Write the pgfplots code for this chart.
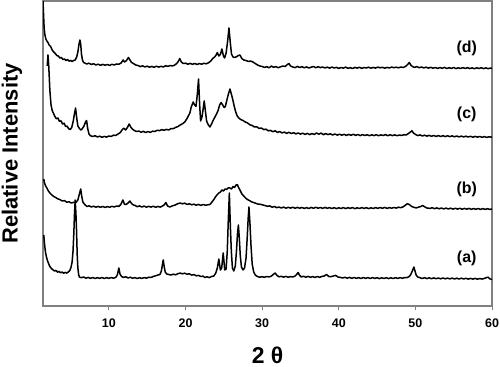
\documentclass[border=0pt]{standalone}
\usepackage{fontspec}
\setmainfont{Liberation Sans}
\usepackage{pgfplots}
\pgfplotsset{compat=1.18}
\usepackage{pgfplotstable}
\definecolor{axisgray}{RGB}{128,128,128}

\pgfplotstableread{
x y
1.40 305
1.48 290
1.55 278
1.65 271
1.78 267
1.90 265
2.05 263.5
2.20 261
2.40 259.5
2.60 256
2.80 254
3.00 252.5
3.20 250.5
3.40 250
3.60 248
3.80 248.5
4.00 246.5
4.20 247
4.40 245.5
4.60 246.5
4.80 244.8
5.00 245.6
5.20 244.5
5.40 245.5
5.60 246
5.80 249
5.95 254
6.10 262
6.22 266
6.32 262
6.42 252
6.55 246
6.70 243.5
6.90 242.8
7.10 242
7.40 242.8
7.70 241.5
8.00 242.3
8.30 241
8.60 241.8
8.90 240.7
9.20 241.6
9.50 240.8
9.80 241.5
10.10 240.6
10.40 241.7
10.70 241
11.00 242
11.30 241.8
11.60 243
11.85 246
12.05 244
12.30 245.5
12.55 248.5
12.75 246
12.95 243.5
13.20 242.5
13.50 241
13.80 240.5
14.10 239.4
14.40 240.2
14.70 239
15.00 239.8
15.30 238.8
15.60 239.6
15.90 238.7
16.20 239.8
16.50 238.9
16.80 239.7
17.10 239
17.40 240.3
17.70 239.6
18.00 240.5
18.30 240
18.60 241
18.85 242.5
19.05 244.5
19.25 247.5
19.45 244
19.70 242.5
20.00 242.8
20.30 241.8
20.60 242.6
20.90 241.7
21.20 242.5
21.50 241.6
21.80 242.4
22.10 241.8
22.40 242.7
22.70 242.2
23.00 243.2
23.30 245
23.55 247.5
23.80 249
24.00 251
24.15 253.5
24.35 250
24.55 251.5
24.75 257
24.95 250
25.10 248
25.30 253
25.50 265
25.67 278
25.85 263
26.00 252
26.20 249
26.45 248.5
26.70 249.5
26.90 250.5
27.10 251
27.35 247.5
27.60 246
27.90 245.5
28.20 244.5
28.50 245
28.80 244
29.10 242.5
29.40 241
29.70 240
30.0 239.5
30.3 238.6
30.6 239.3
30.9 238.2
31.2 239.9
31.5 238.7
31.8 239.4
32.1 238.3
32.4 239.2
32.7 240.0
33.0 239.5
33.3 241.5
33.5 242.5
33.7 240.0
34.0 239.0
34.3 238.4
34.6 239.6
34.9 238.5
35.2 239.3
35.5 238.2
35.8 239.1
36.1 238.0
36.4 238.8
36.7 239.5
37.0 238.3
37.3 239.2
37.6 238.4
37.9 239.0
38.2 238.1
38.5 238.8
38.8 237.9
39.1 238.9
39.4 238.0
39.7 238.6
40.0 237.6
40.3 238.5
40.6 237.8
40.9 238.9
41.2 237.7
41.5 238.3
41.8 237.5
42.1 238.6
42.4 237.9
42.7 238.7
43.0 237.6
43.3 238.5
43.6 238.0
43.9 238.8
44.2 237.8
44.5 238.6
44.8 237.9
45.1 238.9
45.4 238.2
45.7 238.7
46.0 237.8
46.3 238.6
46.6 238.0
46.9 238.9
47.2 238.3
47.5 238.8
47.8 238.2
48.1 239.0
48.4 238.5
48.7 239.5
49.0 241.5
49.2 243.5
49.4 241.0
49.6 239.5
49.9 238.6
50.2 239.4
50.5 238.3
50.8 239.0
51.1 238.1
51.4 238.8
51.7 237.9
52.0 238.7
52.3 237.8
52.6 238.5
52.9 237.6
53.2 238.4
53.5 237.7
53.8 238.6
54.1 237.5
54.4 238.3
54.7 237.6
55.0 238.5
55.3 237.4
55.6 238.2
55.9 237.5
56.2 238.4
56.5 237.6
56.8 238.3
57.1 237.4
57.4 238.1
57.7 237.3
58.0 238.2
58.3 237.5
58.6 238.3
58.9 237.4
59.2 238.1
59.5 237.3
59.8 238.0
60.0 237.6
}\traced

\pgfplotstableread{
x y
1.95 240
2.05 251
2.15 240
2.30 215
2.45 201
2.60 195.5
2.75 193
2.95 189.5
3.15 187.2
3.35 188
3.55 184.6
3.75 185.2
3.95 182
4.15 182.8
4.35 179.6
4.55 179.8
4.75 177.2
4.95 176.5
5.15 178.5
5.35 185
5.50 192
5.65 198
5.80 188
5.95 180
6.15 177.5
6.35 176
6.55 177.5
6.75 180
6.95 184
7.09 185.5
7.22 178
7.40 172
7.60 170.2
7.90 169.5
8.20 170.3
8.50 169
8.80 169.8
9.10 168.7
9.40 169.6
9.70 168.9
10.00 170
10.30 169.6
10.60 170.8
10.90 170.6
11.20 172
11.50 173.5
11.75 176.5
11.95 177.8
12.20 176
12.45 179
12.65 182
12.85 179
13.05 177
13.30 175.6
13.60 174.5
13.90 175
14.20 173.8
14.50 174.6
14.80 173.5
15.10 174.4
15.40 173.6
15.70 174.8
16.00 174.6
16.30 175.7
16.60 175.4
16.90 176.3
17.20 175.7
17.50 176.6
17.80 176
18.10 177.4
18.40 177.3
18.70 178.6
19.00 179.4
19.30 181
19.60 182.2
19.90 184
20.20 187.5
20.40 190.5
20.57 193
20.75 199
20.90 202
21.00 204
21.15 201.5
21.36 199.5
21.52 210
21.70 227
21.84 202
21.97 185
22.15 189
22.32 198
22.44 205
22.58 196
22.75 185
22.95 181.5
23.19 179
23.40 182
23.60 185.5
23.84 189
24.05 192
24.25 195.5
24.45 201
24.65 203.5
24.85 201
25.05 198.5
25.20 199.5
25.40 206
25.60 212
25.80 217
25.98 212
26.15 207
26.35 200
26.55 194
26.75 190
26.95 188
27.20 186.5
27.50 185.5
27.80 184
28.10 183
28.40 181.2
28.70 180.5
29.00 179
29.30 179.2
29.60 177.6
29.90 178
30.20 176.4
30.50 176.8
30.80 175.2
31.10 175.6
31.40 174.3
31.70 175.2
32.00 173.6
32.30 174.4
32.60 173.1
32.90 173.9
33.20 172.6
33.50 173.7
33.80 172.5
34.10 173.3
34.40 172.1
34.70 173
35.00 171.9
35.30 172.8
35.60 171.6
35.90 172.6
36.20 171.4
36.50 172.5
36.80 171.5
37.10 173
37.40 171.8
37.70 172.9
38.00 171.3
38.30 172.4
38.60 171.4
38.90 172.2
39.20 171
39.50 172
39.80 170.9
40.10 171.8
40.40 170.8
40.70 171.7
41.00 170.6
41.30 171.6
41.60 170.7
41.90 171.8
42.20 170.6
42.50 171.5
42.80 170.4
43.10 171.4
43.40 170.5
43.70 171.3
44.00 170.3
44.30 171.2
44.60 170.4
44.90 171.3
45.20 170.3
45.50 171.1
45.80 170.5
46.10 171.4
46.40 170.3
46.70 171.2
47.00 170.4
47.30 171.1
47.60 170.3
47.90 171
48.20 170.5
48.50 171.3
48.80 171
49.10 172.5
49.35 174
49.55 175.2
49.75 173
50.00 171.6
50.30 170.4
50.60 171.1
50.90 170
51.20 170.8
51.50 169.9
51.80 170.6
52.10 169.7
52.40 170.5
52.70 169.6
53.00 170.4
53.30 169.5
53.60 170.3
53.90 169.4
54.20 170.2
54.50 169.4
54.80 170.1
55.10 169.2
55.40 170
55.70 169.1
56.00 169.9
56.30 169.1
56.60 169.8
56.90 169
57.20 169.7
57.50 168.8
57.80 169.6
58.10 168.9
58.40 169.5
58.70 168.7
59.00 169.4
59.30 168.6
59.60 169.2
60.00 168.8
}\tracec

\pgfplotstableread{
x y
1.50 127
1.60 123
1.75 120
1.91 118
2.10 115
2.30 113
2.56 111
2.80 109.5
3.05 108.6
3.30 107.2
3.60 106.5
3.90 105
4.20 105.4
4.50 103.8
4.80 104.2
5.10 103
5.40 103.6
5.70 103.5
5.95 106
6.15 112
6.32 117
6.45 110
6.60 104
6.85 101.5
7.13 99.5
7.40 100.2
7.70 99
8.00 99.8
8.30 98.8
8.60 99.6
8.90 98.7
9.20 99.5
9.50 98.6
9.80 99.4
10.10 98.8
10.40 99.7
10.70 99
11.00 100
11.30 99.6
11.55 101.5
11.83 106
12.05 101.5
12.25 101.5
12.50 103
12.74 105
12.95 102.5
13.20 101
13.40 100.6
13.70 99.3
14.00 100.1
14.30 99
14.60 99.9
14.90 98.8
15.20 99.7
15.50 98.9
15.80 99.8
16.10 98.7
16.40 99.6
16.70 98.9
16.95 99.8
17.20 101
17.44 103.5
17.65 100
17.96 99
18.30 100.2
18.60 100.8
18.90 102
19.27 103
19.60 102.2
19.90 102.8
20.20 101.6
20.50 102.2
20.80 101.2
21.10 101.8
21.40 100.8
21.70 101.6
22.00 100.6
22.30 101.5
22.60 100.8
22.90 101.2
23.19 101.5
23.45 104
23.70 106.5
23.90 109
24.10 111
24.35 113
24.55 114
24.75 116
24.95 115
25.15 117
25.35 116.5
25.55 118
25.80 118
26.00 117
26.20 119.5
26.40 118.5
26.60 121
26.75 121.5
26.90 119
27.10 116
27.36 112
27.60 110
27.90 107.5
28.20 106
28.45 105
28.67 104
29.00 103.2
29.40 102
29.80 101.7
30.10 101
30.40 100.4
30.70 99.7
31.00 100.1
31.30 98.8
31.60 99.5
31.90 98.3
32.20 99
32.50 98
32.80 98.9
33.10 97.8
33.40 98.7
33.70 97.9
34.00 98.8
34.30 97.7
34.60 98.6
34.90 97.8
35.20 98.5
35.50 97.6
35.80 98.4
36.10 97.5
36.40 98.6
36.70 97.7
37.00 98.7
37.30 97.8
37.60 98.5
37.90 97.6
38.20 98.6
38.50 97.7
38.80 98.4
39.10 97.5
39.40 98.3
39.70 97.4
40.00 98.2
40.30 97.5
40.60 98.4
40.90 97.4
41.20 98.3
41.50 97.6
41.80 98.5
42.10 97.3
42.40 98.2
42.70 97.5
43.00 98.4
43.30 97.6
43.60 98.3
43.90 97.4
44.20 98.2
44.50 97.5
44.80 98.4
45.10 97.6
45.40 98.5
45.70 97.7
46.00 98.6
46.30 97.6
46.60 98.4
46.90 97.8
47.20 98.5
47.50 97.9
47.80 98.8
48.10 98.3
48.40 99.2
48.70 100.8
48.95 102.3
49.20 101.5
49.50 99.6
49.80 98.7
50.10 98.1
50.40 98.8
50.70 99.5
50.95 100.5
51.20 99.2
51.50 98
51.90 97.6
52.20 98.3
52.50 97.3
52.80 98.1
53.10 97.2
53.40 98
53.70 97.1
54.00 97.9
54.30 97
54.60 97.8
54.90 96.9
55.20 97.8
55.50 96.9
55.80 97.7
56.10 96.8
56.40 97.6
56.70 96.8
57.00 97.6
57.30 96.7
57.60 97.5
57.90 96.7
58.20 97.5
58.50 96.6
58.80 97.4
59.10 96.6
59.40 97.3
59.70 96.6
60.00 97
}\traceb

\pgfplotstableread{
x y
1.50 71
1.60 62
1.72 54
1.85 49
2.00 45
2.15 42
2.30 39.5
2.50 37.5
2.70 36.2
2.90 35
3.10 35.6
3.30 33.8
3.50 34.6
3.70 33.2
3.90 34
4.10 32.8
4.30 33.6
4.50 32.9
4.70 34
4.90 35.5
5.05 38.5
5.20 44
5.32 55
5.42 72
5.50 90
5.60 106
5.70 92
5.78 75
5.86 52
5.95 38
6.05 31.5
6.15 29
6.40 28.3
6.70 29
7.00 27.8
7.30 28.6
7.60 27.6
7.90 28.5
8.20 27.5
8.50 28.4
8.80 27.6
9.10 28.5
9.40 27.5
9.70 28.4
10.00 27.6
10.30 28.5
10.60 27.8
10.90 28.6
11.10 31
11.30 38
11.45 32
11.65 29.5
11.90 28.6
12.20 29.2
12.50 28
12.80 28.8
13.10 27.7
13.40 28.4
13.70 27.5
14.00 28.3
14.30 27.6
14.60 28.4
14.90 27.8
15.20 28.8
15.50 28.5
15.80 29.6
16.10 30.2
16.40 31
16.66 31.5
16.85 35
17.00 42
17.09 46
17.20 40
17.35 34
17.55 32
17.80 31.5
18.10 31
18.40 31.8
18.70 31.2
19.00 32.3
19.30 32.9
19.60 32.2
19.90 32.8
20.20 31.8
20.50 32.2
20.80 30.9
21.10 31.4
21.40 30.2
21.70 30.6
22.00 29.5
22.30 29.9
22.50 28.5
22.80 29.2
23.10 28.4
23.40 29.5
23.70 30
23.95 33
24.15 38
24.35 47
24.55 36
24.72 38
24.92 53
25.12 36
25.30 37
25.45 55
25.58 85
25.72 113
25.85 80
25.98 55
26.12 38
26.30 35
26.50 40
26.65 55
26.78 72
26.90 81
27.02 68
27.15 50
27.30 39
27.50 36
27.70 38
27.90 48
28.05 68
28.18 88
28.28 99
28.40 84
28.55 60
28.70 42
28.90 34
29.10 31
29.40 29.4
29.70 28.8
30.00 29.3
30.30 28.7
30.60 29.5
30.90 29.1
31.20 29.9
31.45 31.5
31.70 33
31.95 30.5
32.20 29.2
32.50 29.7
32.80 28.9
33.10 29.6
33.40 28.8
33.70 29.4
34.00 29
34.30 30
34.50 31.5
34.70 33.5
34.90 30.5
35.10 29.1
35.40 29.7
35.70 28.8
36.00 29.6
36.30 28.7
36.60 29.4
36.90 28.6
37.20 29.5
37.50 28.7
37.80 29.6
38.10 30
38.40 31.5
38.70 29.5
39.00 29.4
39.30 30
39.60 30.6
39.90 29
40.20 28.6
40.50 28
40.80 28.7
41.10 27.8
41.40 28.6
41.70 27.7
42.00 28.5
42.30 27.6
42.60 28.4
42.90 27.5
43.20 28.5
43.50 27.6
43.80 28.4
44.10 27.5
44.40 28.4
44.70 27.6
45.00 28.3
45.30 27.4
45.60 28.2
45.90 27.5
46.20 28.3
46.50 27.4
46.80 28.2
47.10 27.5
47.40 28.3
47.70 27.6
48.00 28.4
48.30 27.7
48.60 28.5
48.90 28.4
49.20 29.5
49.40 31.5
49.60 35
49.80 39
49.95 35
50.10 31
50.30 29
50.60 28.3
50.90 27.5
51.20 28.3
51.50 27.4
51.80 28.2
52.10 27.3
52.40 28.1
52.70 27.3
53.00 28
53.30 27.2
53.60 28
53.90 27.2
54.20 27.9
54.50 27.1
54.80 27.9
55.10 27
55.40 27.8
55.70 27
56.00 27.8
56.30 27
56.60 27.7
56.90 26.9
57.20 27.6
57.50 26.9
57.80 27.6
58.10 26.8
58.40 27.5
58.70 26.9
59.00 27.6
59.30 28.5
59.50 28.8
59.70 27.2
60.00 26.5
}\tracea

\begin{document}
\begin{tikzpicture}
\begin{axis}[
  at={(0,0)}, anchor=south west,
  scale only axis, width=449bp, height=305bp,
  xmin=1.4, xmax=60, ymin=0, ymax=305,
  xtick={10,20,30,40,50,60}, ytick=\empty,
  axis line style={draw=axisgray, line width=1.2bp},
  tick style={draw=axisgray, line width=1bp},
  xtick pos=bottom, tick align=outside, major tick length=4bp,
  xticklabel style={font=\fontsize{12.5}{13}\selectfont\bfseries, /pgf/number format/assume math mode=true, yshift=-5bp},
  xlabel={2 θ},
  xlabel style={font=\fontsize{23}{24}\selectfont\bfseries, at={(axis description cs:0.5,-0.162)}, anchor=center},
  ylabel={Relative Intensity},
  ylabel style={font=\fontsize{22}{23}\selectfont\bfseries, at={(axis description cs:-0.069,0.5)}, anchor=center, rotate=0},
]
\addplot[black, line width=1.5bp, line join=round] table[x=x,y=y] {\traced};
\addplot[black, line width=1.5bp, line join=round] table[x=x,y=y] {\tracec};
\addplot[black, line width=1.5bp, line join=round] table[x=x,y=y] {\traceb};
\addplot[black, line width=1.5bp, line join=round] table[x=x,y=y] {\tracea};
\node[font=\fontsize{16}{17}\selectfont\bfseries] at (axis cs:56.7,258) {(d)};
\node[font=\fontsize{16}{17}\selectfont\bfseries] at (axis cs:56.7,192) {(c)};
\node[font=\fontsize{16}{17}\selectfont\bfseries] at (axis cs:56.7,117) {(b)};
\node[font=\fontsize{16}{17}\selectfont\bfseries] at (axis cs:56.7,48) {(a)};
\end{axis}
\pgfresetboundingbox
\path[use as bounding box] (-43bp,-61bp) rectangle (457bp,306bp);
\end{tikzpicture}
\end{document}
